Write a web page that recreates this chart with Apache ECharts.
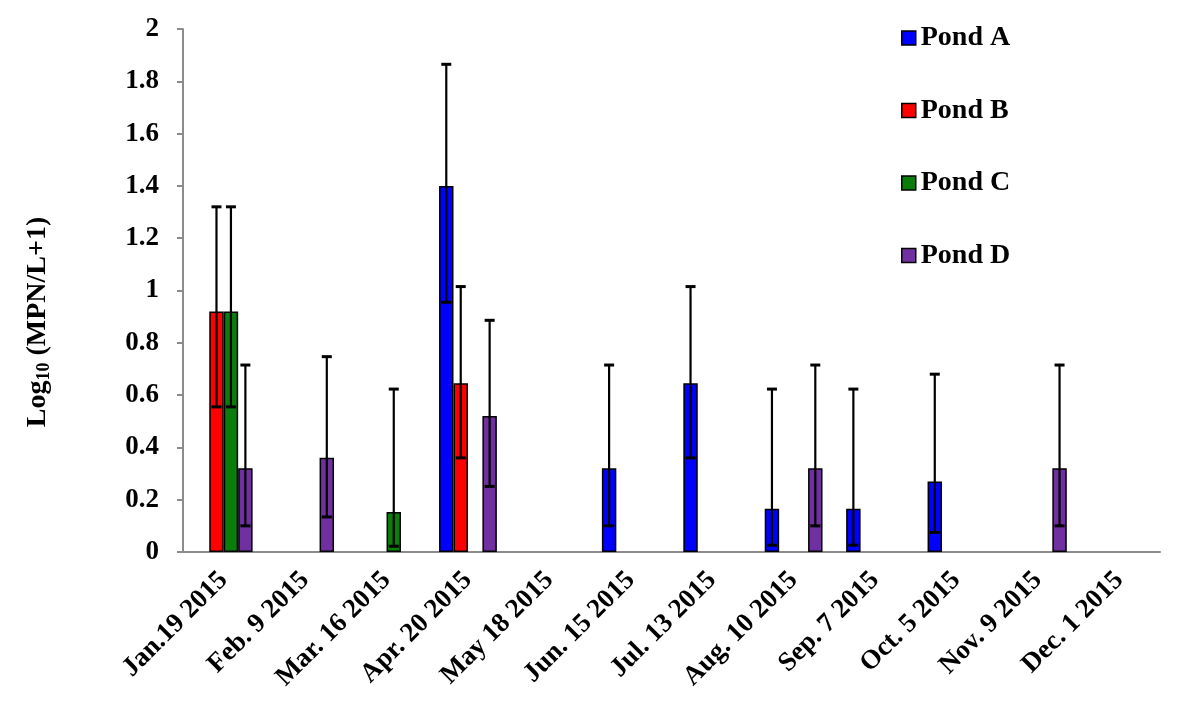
<!DOCTYPE html>
<html lang="en">
<head>
    <meta charset="UTF-8">
    <title>Pond MPN</title>
    <script src="https://cdn.jsdelivr.net/npm/echarts@6/dist/echarts.min.js"></script>
    <style>
        html, body { margin: 0; padding: 0; background: #fff; }
        #main { width: 1181px; height: 722px; }
    </style>
</head>
<body>
<div id="main"></div>
<script>
    // sampling dates
    var categories = ['Jan.19 2015', 'Feb. 9 2015', 'Mar. 16 2015', 'Apr. 20 2015', 'May 18 2015', 'Jun. 15 2015',
        'Jul. 13 2015', 'Aug. 10 2015', 'Sep. 7 2015', 'Oct. 5 2015', 'Nov. 9 2015', 'Dec. 1 2015'];
    var seriesNames = ['Pond A', 'Pond B', 'Pond C', 'Pond D'];

    // bar heights (null = nothing detected)
    var pondA = [null, null, null, 1.40, null, 0.32, 0.645, 0.165, 0.165, 0.27, null, null];
    var pondB = [0.92, null, null, 0.645, null, null, null, null, null, null, null, null];
    var pondC = [0.92, null, 0.153, null, null, null, null, null, null, null, null, null];
    var pondD = [0.32, 0.36, null, 0.52, null, null, null, 0.32, null, null, 0.32, null];

    // error bar ends
    var pondAHigh = [null, null, null, 1.865, null, 0.715, 1.015, 0.623, 0.623, 0.68, null, null];
    var pondALow  = [null, null, null, 0.955, null, 0.10, 0.36, 0.026, 0.026, 0.075, null, null];
    var pondBHigh = [1.32, null, null, 1.015, null, null, null, null, null, null, null, null];
    var pondBLow  = [0.555, null, null, 0.36, null, null, null, null, null, null, null, null];
    var pondCHigh = [1.32, null, 0.623, null, null, null, null, null, null, null, null, null];
    var pondCLow  = [0.555, null, 0.022, null, null, null, null, null, null, null, null, null];
    var pondDHigh = [0.715, 0.747, null, 0.886, null, null, null, 0.715, null, null, 0.715, null];
    var pondDLow  = [0.10, 0.134, null, 0.251, null, null, null, 0.10, null, null, 0.10, null];

    var yTicks = { min: 0, max: 2, interval: 0.2 };

    var colors = ['#0000ff', '#ff0000', '#0a7d0a', '#7030a0'];
    var values = [pondA, pondB, pondC, pondD];
    var highs = [pondAHigh, pondBHigh, pondCHigh, pondDHigh];
    var lows = [pondALow, pondBLow, pondCLow, pondDLow];

    var font = '"Liberation Serif", "Times New Roman", serif';
    var gapPct = 0.29;

    // rows for the custom error-bar series: [category, low, high, pond index]
    var errData = [];
    for (var s = 0; s < 4; s++) {
        for (var i = 0; i < categories.length; i++) {
            if (highs[s][i] != null) errData.push([i, lows[s][i], highs[s][i], s]);
        }
    }

    function renderError(params, api) {
        var idx = api.value(0);
        var pond = api.value(3);
        var band = api.size([1, 0])[0];
        var barW = band * (1 - gapPct) / 4;
        var off = (pond - 1.5) * barW;
        var hi = api.coord([idx, api.value(2)]);
        var lo = api.coord([idx, api.value(1)]);
        var x = hi[0] + off;
        var cap = 5;
        return {
            type: 'group',
            children: [
                { type: 'line', shape: { x1: x, y1: hi[1], x2: x, y2: lo[1] }, style: { stroke: '#000', lineWidth: 2.2 } },
                { type: 'line', shape: { x1: x - cap, y1: hi[1], x2: x + cap, y2: hi[1] }, style: { stroke: '#000', lineWidth: 3 } },
                { type: 'line', shape: { x1: x - cap, y1: lo[1], x2: x + cap, y2: lo[1] }, style: { stroke: '#000', lineWidth: 3 } }
            ]
        };
    }

    var series = [];
    for (var k = 0; k < 4; k++) {
        series.push({
            name: seriesNames[k],
            type: 'bar',
            data: values[k],
            barGap: '0%',
            barCategoryGap: (gapPct * 100) + '%',
            itemStyle: { color: colors[k], borderColor: '#000', borderWidth: 1.5 }
        });
    }
    series.push({
        type: 'custom',
        renderItem: renderError,
        data: errData,
        z: 5,
        silent: true,
        encode: { x: 0, y: [1, 2] }
    });

    var myChart = echarts.init(document.getElementById('main'));
    var option = {
        animation: false,
        backgroundColor: '#fff',
        color: colors,
        grid: { left: 183, right: 21, top: 29, bottom: 170 },
        legend: {
            data: seriesNames,
            orient: 'vertical',
            left: 896,
            top: 19,
            itemWidth: 14,
            itemHeight: 14,
            itemGap: 44.5,
            icon: 'rect',
            itemStyle: { borderColor: '#000', borderWidth: 1.5 },
            textStyle: { fontFamily: font, fontWeight: 'bold', fontSize: 28, color: '#000', padding: [0, 0, 0, 0] }
        },
        xAxis: {
            type: 'category',
            data: categories,
            axisLine: { lineStyle: { color: '#8c8c8c', width: 2 } },
            axisTick: { length: 6, lineStyle: { color: '#8c8c8c', width: 2 } },
            axisLabel: {
                rotate: 45, margin: 24, interval: 0,
                fontFamily: font, fontWeight: 'bold', fontSize: 27, color: '#000'
            }
        },
        yAxis: {
            type: 'value',
            min: yTicks.min, max: yTicks.max, interval: yTicks.interval,
            splitLine: { show: false },
            axisLine: { show: true, lineStyle: { color: '#8c8c8c', width: 2 } },
            axisTick: { show: true, length: 6, lineStyle: { color: '#8c8c8c', width: 2 } },
            axisLabel: {
                margin: 24,
                fontFamily: font, fontWeight: 'bold', fontSize: 27, color: '#000'
            }
        },
        graphic: [{
            type: 'text',
            x: 38, y: 322,
            rotation: Math.PI / 2,
            style: {
                text: '{a|Log}{b|10}{a| (MPN/L+1)}',
                align: 'center',
                verticalAlign: 'middle',
                rich: {
                    a: { fontFamily: font, fontWeight: 'bold', fontSize: 28, fill: '#000' },
                    b: { fontFamily: font, fontWeight: 'bold', fontSize: 18, fill: '#000', verticalAlign: 'bottom', padding: [12, 0, 0, 0] }
                }
            }
        }],
        series: series
    };
    myChart.setOption(option, true);
</script>
</body>
</html>
